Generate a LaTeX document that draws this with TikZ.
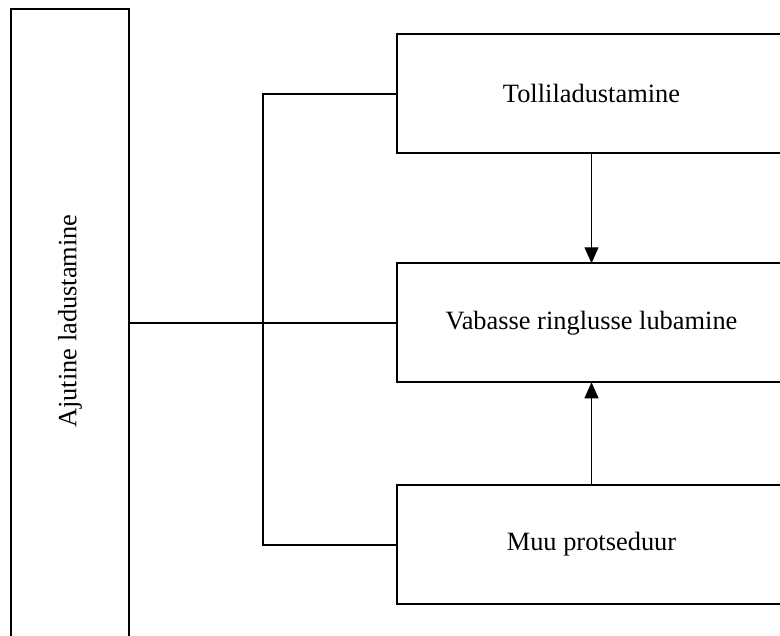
\documentclass[tikz,border=0pt]{standalone}
\usepackage{fontspec}
\setmainfont{Liberation Serif}
\usetikzlibrary{arrows.meta}
\begin{document}
\begin{tikzpicture}[x=0.75pt,y=-0.75pt,
  box/.style={draw=black,line width=1.5pt,inner sep=0pt,outer sep=0pt,
    minimum width=291.75pt,minimum height=89.25pt,
    font=\fontsize{19.8pt}{23pt}\selectfont},
  sidebox/.style={draw=black,line width=1.5pt,inner sep=0pt,outer sep=0pt,
    minimum width=88.5pt,minimum height=488.25pt},
  sidelabel/.style={rotate=90,font=\fontsize{19.8pt}{23pt}\selectfont},
  link/.style={line width=1.5pt},
  flow/.style={line width=0.8pt,-{Triangle[length=12pt,width=10.5pt]}}]
\useasboundingbox (0,0) rectangle (780,635);
\clip (0,0) rectangle (780,635);
\node[sidebox] (side) at (70,334.5) {};
\node[sidelabel] (sidetext) at (70,321) {Ajutine ladustamine};
\node[box] (top) at (591.5,93.5) {Tolliladustamine};
\node[box] (mid) at (591.5,322.75) {Vabasse ringlusse lubamine};
\node[box] (bot) at (591.5,544.5) {Muu protseduur};
\coordinate (j) at (263,322.75);
\draw[link] (side.east |- mid.west) -- (mid.west);
\draw[link] (top.west) -| (j) |- (bot.west);
\draw[flow] (top.south) -- (mid.north);
\draw[flow] (bot.north) -- (mid.south);
\end{tikzpicture}
\end{document}
